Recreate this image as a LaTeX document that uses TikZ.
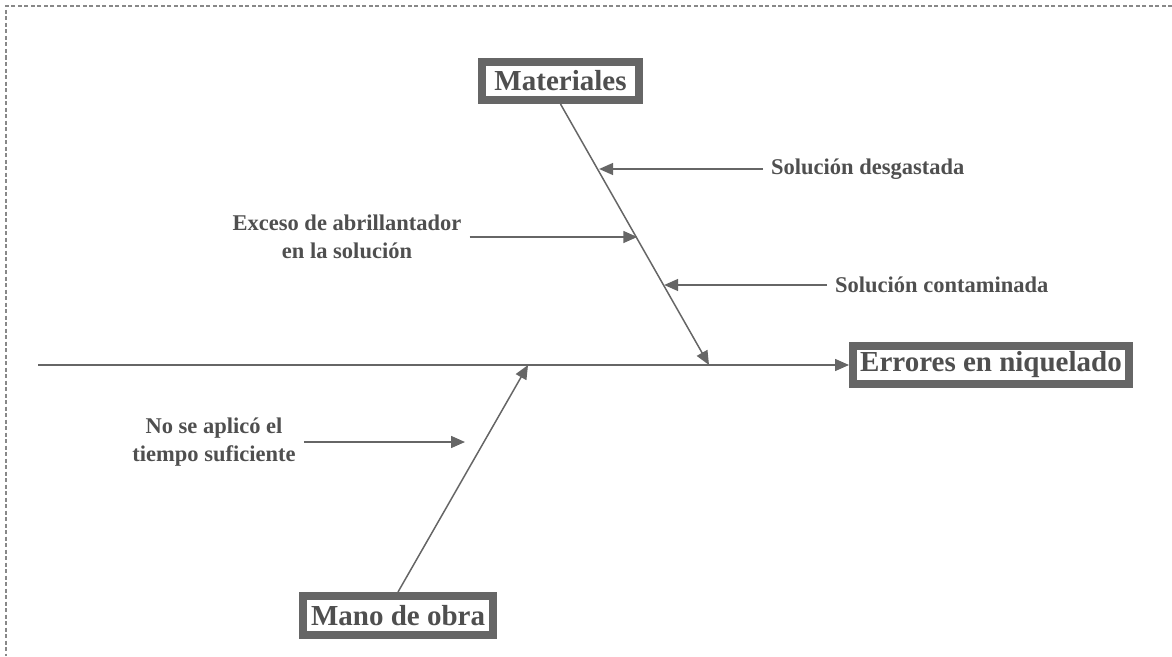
\documentclass[tikz,border=0pt]{standalone}
\usepackage{fontspec}
\setmainfont{Liberation Serif}
\usetikzlibrary{arrows.meta,calc}
\definecolor{ln}{HTML}{666666}
\definecolor{tx}{HTML}{4F4F4F}
\definecolor{frm}{HTML}{888888}
\begin{document}
\begin{tikzpicture}[x=1pt,y=-1pt,
  bigbox/.style={draw=ln, line width=8pt, fill=white, text=tx, font=\fontsize{29}{34}\selectfont\bfseries, inner sep=0pt},
  cause/.style={text=tx, font=\fontsize{22.5}{28}\selectfont\bfseries, align=center, inner xsep=8pt, inner ysep=2pt},
  bone/.style={draw=ln, line width=1.5pt},
  arr/.style={bone, -{Triangle[length=14pt,width=12pt]}}
]
\useasboundingbox (0,0) rectangle (1172,656);
\draw[frm, line width=1.4pt, dash pattern=on 4pt off 2.5pt] (1172,6) -- (6,6) -- (6,656);

\node[bigbox, minimum width=276pt, minimum height=38pt] (eff) at (991,365) {Errores en niquelado};
\node[bigbox, minimum width=157pt, minimum height=38pt] (mat) at (560.5,81) {Materiales};
\node[bigbox, minimum width=190pt, minimum height=39pt] (mo) at (398,615.5) {Mano de obra};

\coordinate (tail) at (38,365);
\coordinate (mtip) at (709,365);
\coordinate (otip) at (528,365);

\draw[arr] (tail) -- (eff.west);
\draw[arr] (mat.south) -- (mtip);
\draw[arr] (mo.north) -- (otip);

\node[cause, anchor=west] (c1) at (763,169) {Solución desgastada};
\node[cause] (c2) at (347,237) {Exceso de abrillantador\\en la solución};
\node[cause, anchor=west] (c3) at (827,285) {Solución contaminada};
\node[cause] (c4) at (214,442) {No se aplicó el\\tiempo suficiente};
\coordinate (c4end) at (465,442);

\coordinate (b1) at ($(mat.south)!0.26!(mtip)$);
\coordinate (b2) at ($(mat.south)!0.517!(mtip)$);
\coordinate (b3) at ($(mat.south)!0.698!(mtip)$);

\draw[arr] (c1.west) -- (b1 |- c1.west);
\draw[arr] (c2.east) -- (b2 |- c2.east);
\draw[arr] (c3.west) -- (b3 |- c3.west);
\draw[arr] (c4.east) -- (c4end);
\end{tikzpicture}
\end{document}
